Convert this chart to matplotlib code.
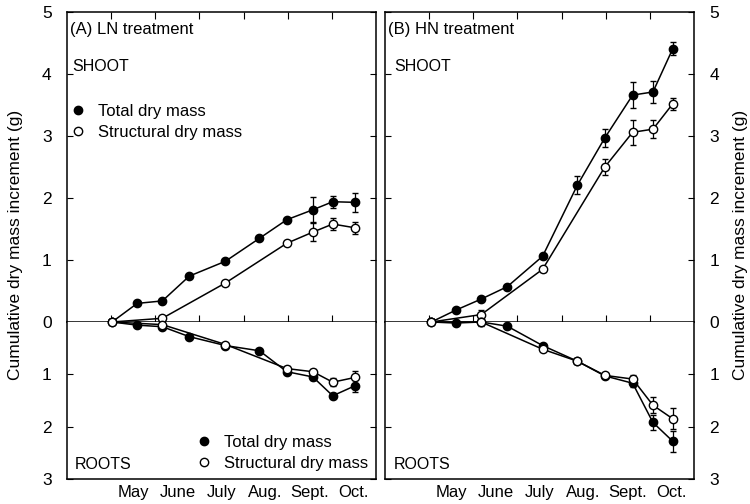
import numpy as np
import matplotlib.pyplot as plt

plt.rcParams['font.family'] = ['Liberation Sans Narrow', 'Liberation Sans', 'DejaVu Sans']

# harvest times, in months counted from 1 April
months = ['May', 'June', 'July', 'Aug.', 'Sept.', 'Oct.']

ln_t = [1.02, 1.59, 2.16, 2.77, 3.59, 4.36, 4.98, 5.57, 6.02, 6.52]
ln_ts = [1.02, 2.16, 3.59, 4.98, 5.57, 6.02, 6.52]
ln_shoot_total = [0, 0.30, 0.34, 0.74, 0.98, 1.35, 1.65, 1.81, 1.94, 1.93]
ln_shoot_total_err = [0, 0, 0, 0, 0, 0, 0.03, 0.20, 0.10, 0.15]
ln_shoot_struct = [0, 0.06, 0.63, 1.27, 1.45, 1.58, 1.52]
ln_shoot_struct_err = [0, 0, 0, 0.03, 0.15, 0.10, 0.10]
ln_root_total = [0, 0.06, 0.09, 0.28, 0.45, 0.55, 0.95, 1.05, 1.41, 1.22]
ln_root_total_err = [0, 0, 0, 0, 0, 0, 0.05, 0.05, 0.05, 0.12]
ln_root_struct = [0, 0.05, 0.43, 0.89, 0.95, 1.15, 1.06]
ln_root_struct_err = [0, 0, 0, 0.04, 0.05, 0.08, 0.12]

hn_t = [1.05, 1.60, 2.18, 2.77, 3.57, 4.36, 4.98, 5.61, 6.07, 6.52]
hn_ts = [1.05, 2.18, 3.57, 4.98, 5.61, 6.07, 6.52]
hn_tr = [1.05, 2.18, 3.57, 4.36, 4.98, 5.61, 6.07, 6.52]
hn_shoot_total = [0, 0.19, 0.37, 0.57, 1.06, 2.21, 2.97, 3.66, 3.71, 4.41]
hn_shoot_total_err = [0, 0, 0, 0, 0.04, 0.15, 0.15, 0.21, 0.18, 0.10]
hn_shoot_struct = [0, 0.12, 0.85, 2.50, 3.06, 3.11, 3.52]
hn_shoot_struct_err = [0, 0.08, 0.04, 0.13, 0.20, 0.15, 0.10]
hn_root_total = [0, 0.02, 0, 0.08, 0.45, 0.75, 1.03, 1.17, 1.92, 2.28]
hn_root_total_err = [0, 0, 0, 0, 0, 0, 0.04, 0.08, 0.15, 0.20]
hn_root_struct = [0, 0.0, 0.52, 0.75, 1.02, 1.09, 1.59, 1.85]
hn_root_struct_err = [0, 0.08, 0, 0, 0.04, 0.08, 0.15, 0.20]

fig = plt.figure(figsize=(7.5, 5.04), dpi=100)

W, H = 750.0, 504.0
def box(x0, x1, ytop, ybot):
    return [x0 / W, 1 - ybot / H, (x1 - x0) / W, (ybot - ytop) / H]

def series(ax, x, y, err, filled):
    ax.errorbar(x, y, yerr=err, color='black', lw=1.1, marker='o', ms=6,
                mfc='black' if filled else 'white', mec='black', mew=1.0,
                ecolor='black', elinewidth=0.9, capsize=2, capthick=0.9,
                clip_on=False, zorder=3)

def style(ax, top, labelside):
    for s in ax.spines.values():
        s.set_linewidth(1.1)
    ax.set_xlim(0, 7)
    ax.tick_params(axis='y', direction='in', length=4, left=True, right=True,
                   labelleft=(labelside == 'left'), labelright=(labelside == 'right'),
                   labelsize=12.5, pad=11)
    if top:
        ax.set_xticks(np.arange(1, 7))
        ax.tick_params(axis='x', direction='in', length=5, top=True, bottom=True,
                       labelbottom=False)
    else:
        ax.set_xticks(np.arange(1.5, 7.5, 1))
        ax.set_xticklabels(months)
        ax.tick_params(axis='x', length=0, labelsize=12, pad=4)
        ax.spines['top'].set_visible(False)

panels = [
    ('left', 67, 376, '(A) LN treatment',
     (ln_t, ln_shoot_total, ln_shoot_total_err), (ln_ts, ln_shoot_struct, ln_shoot_struct_err),
     (ln_t, ln_root_total, ln_root_total_err), (ln_ts, ln_root_struct, ln_root_struct_err)),
    ('right', 385, 694, '(B) HN treatment',
     (hn_t, hn_shoot_total, hn_shoot_total_err), (hn_ts, hn_shoot_struct, hn_shoot_struct_err),
     (hn_t, hn_root_total, hn_root_total_err), (hn_tr, hn_root_struct, hn_root_struct_err)),
]

for side, x0, x1, title, st, ss, rt, rs in panels:
    axs = fig.add_axes(box(x0, x1, 12, 322))
    axr = fig.add_axes(box(x0, x1, 322, 479))

    series(axs, *st, True)
    series(axs, *ss, False)
    axs.set_ylim(0, 5)
    axs.set_yticks(range(0, 6))
    style(axs, True, side)

    series(axr, *rt, True)
    series(axr, *rs, False)
    axr.set_ylim(3, 0)
    axr.set_yticks([1, 2, 3])
    style(axr, False, side)

    axs.text(0.06, 4.72, title, fontsize=12, va='center', ha='left')
    axs.text(0.12 if side == 'left' else 0.2, 4.12, 'SHOOT', fontsize=11.5,
             va='center', ha='left')
    axr.text(0.18 if side == 'left' else 0.2, 2.73, 'ROOTS', fontsize=11.5,
             va='center', ha='left')

    if side == 'left':
        h1, = axs.plot([], [], 'o', color='black', ms=6)
        h2, = axs.plot([], [], 'o', mfc='white', mec='black', ms=6)
        axs.legend([h1, h2], ['Total dry mass', 'Structural dry mass'],
                   loc='upper left', bbox_to_anchor=(-0.025, 0.74), frameon=False,
                   fontsize=12, handlelength=0.8, handletextpad=0.8,
                   labelspacing=0.35, borderaxespad=0.3)
        h3, = axr.plot([], [], 'o', color='black', ms=6)
        h4, = axr.plot([], [], 'o', mfc='white', mec='black', ms=6)
        axr.legend([h3, h4], ['Total dry mass', 'Structural dry mass'],
                   loc='lower right', frameon=False, fontsize=12,
                   handlelength=0.8, handletextpad=0.8, labelspacing=0.35,
                   borderaxespad=0.1)

fig.text(16 / W, 1 - 245 / H, 'Cumulative dry mass increment (g)', rotation=90,
         ha='center', va='center', fontsize=12.5)
fig.text(740 / W, 1 - 245 / H, 'Cumulative dry mass increment (g)', rotation=90,
         ha='center', va='center', fontsize=12.5)

fig.savefig('out.png', dpi=100)
